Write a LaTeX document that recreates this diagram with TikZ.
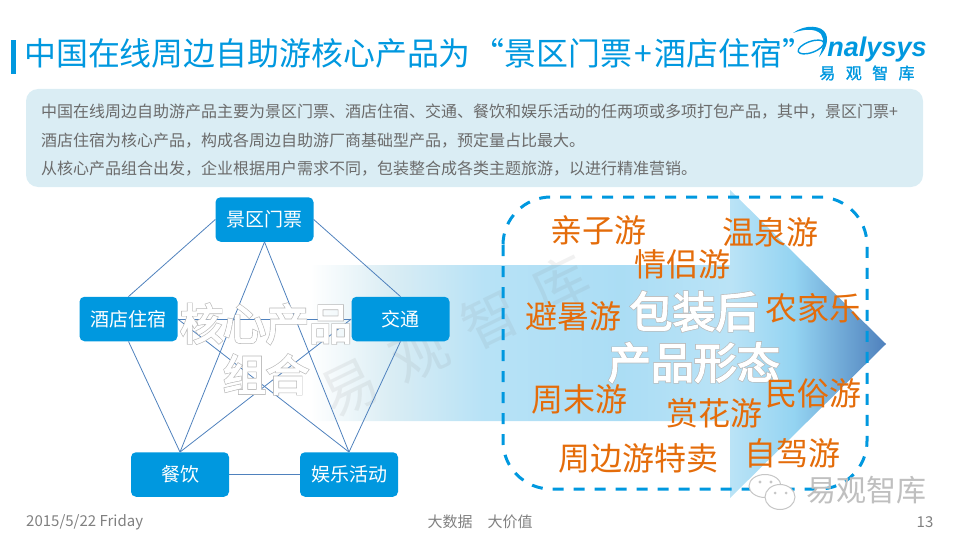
\documentclass[tikz,border=0pt]{standalone}
\usepackage{fontspec}
\setmainfont{Noto Sans CJK SC}
\newfontfamily\glowfont[FakeBold=6]{Noto Sans CJK SC}
\newfontfamily\fatfont[FakeBold=3]{Noto Sans CJK SC}
\newfontfamily\logofont[FakeBold=1.5]{Noto Sans CJK SC}
\newfontfamily\brandfont{Liberation Sans}
\usetikzlibrary{calc}

\definecolor{brandblue}{HTML}{0098DF}
\definecolor{linkblue}{HTML}{4F81BD}
\definecolor{infofill}{HTML}{DAEDF4}
\definecolor{tagorange}{HTML}{E46C0A}
\definecolor{bodygray}{HTML}{6B6B6B}

\pgfdeclarehorizontalshading{arrowfade}{100bp}{
    color(0bp)=(white); color(25bp)=(white); color(32bp)=(infofill);
    color(40bp)=(brandblue!28); color(52bp)=(brandblue!33); color(61.5bp)=(brandblue!27);
    color(67bp)=(brandblue!42); color(75bp)=(linkblue); color(100bp)=(linkblue)}

\newcommand{\glow}[1]{\rlap{\color{gray!55}\glowfont #1}{\color{white}\fatfont #1}}
\newcommand{\wcomma}{\char"FF0C\relax}

\tikzset{
    prod/.style={fill=brandblue, rounded corners=5pt, text=white, inner sep=0pt,
        minimum width=98pt, minimum height=44.5pt, font=\fontsize{19}{22}\selectfont},
    link/.style={draw=linkblue, line width=0.8pt},
    tag/.style={text=tagorange, inner sep=0pt, font=\fontsize{32}{36}\selectfont},
    body/.style={text=bodygray, inner sep=0pt, anchor=west, font=\fontsize{16}{19}\selectfont},
    foot/.style={text=gray, inner sep=0pt, font=\fontsize{15}{17}\selectfont},
    big/.style={inner sep=0pt, align=center}
}

\begin{document}
\begin{tikzpicture}[x=1pt, y=-1pt]
    \useasboundingbox (0,0) rectangle (960,540);
    \fill [brandblue] (11,40) rectangle (15.5,74);
    \node (title) at (24,53) [anchor=west, inner sep=0pt, text=brandblue, font=\fontsize{31.9}{36}\selectfont] {中国在线周边自助游核心产品为\hspace{2pt}“景区门票\hspace{2.5pt}+\hspace{2.5pt}酒店住宿”};

    \fill [brandblue] (793,33) .. controls (805,24) and (822,25) .. (826,34) .. controls (829,42) and (825,50) .. (819,57) .. controls (823,48) and (825,40) .. (821,34) .. controls (815,28) and (803,29) .. (793,33) -- cycle;
    \draw [brandblue, line width=1.4pt, rotate around={20:(811,47)}] (811,47) ellipse (13.5 and 5.5);
    \node (brand) at (877,50) [inner sep=0pt, text=brandblue, font=\brandfont\bfseries\itshape\fontsize{27}{29}\selectfont] {nalysys};
    \node (brandcn) at (867,73) [inner sep=0pt, text=brandblue, font=\logofont\fontsize{16}{18}\selectfont] {易\hspace{0.65em}观\hspace{0.65em}智\hspace{0.65em}库};

    \fill [infofill, rounded corners=12pt] (26,89) rectangle (923,187);
    \node (line1) at (41,112) [body] {中国在线周边自助游产品主要为景区门票、酒店住宿、交通、餐饮和娱乐活动的任两项或多项打包产品\wcomma 其中\wcomma 景区门票+};
    \node (line2) at (41,140.5) [body] {酒店住宿为核心产品\wcomma 构成各周边自助游厂商基础型产品\wcomma 预定量占比最大。};
    \node (line3) at (41,169) [body] {从核心产品组合出发\wcomma 企业根据用户需求不同\wcomma 包装整合成各类主题旅游\wcomma 以进行精准营销。};

    \shade [shading=arrowfade] (310,265) -- (730,265) -- (730,190) -- (886,344) -- (730,498) -- (730,421) -- (310,421) -- cycle;

    \node (mark) at (455,336) [rotate=26, inner sep=0pt, text=gray, opacity=0.11, font=\fontsize{56}{60}\selectfont] {易\hspace{0.4em}观\hspace{0.4em}智\hspace{0.4em}库};

    \draw [brandblue, line width=3pt, dash pattern=on 11pt off 10pt, rounded corners=48pt] (503,197) rectangle (867,489);

    \node (top) at (264.5,219.5) [prod] {景区门票};
    \node (left) at (128.5,319) [prod] {酒店住宿};
    \node (right) at (400.5,319) [prod] {交通};
    \node (botl) at (180,474.5) [prod] {餐饮};
    \node (botr) at (349,474.5) [prod] {娱乐活动};

    \draw [link] (top.west) -- (left.north);
    \draw [link] (top.east) -- (right.north);
    \draw [link] (top.south) -- (botl.north);
    \draw [link] (top.south) -- (botr.north);
    \draw [link] (left.east) -- (right.west);
    \draw [link] (left.east) -- (botr.north);
    \draw [link] (right.west) -- (botl.north);
    \draw [link] (left.south) -- (botl.north);
    \draw [link] (right.south) -- (botr.north);
    \draw [link] (botl.east) -- (botr.west);

    \node (core) at (266,349) [big, font=\fontsize{43}{51}\selectfont] {\glow{核心产品}\\\glow{组合}};
    \node (pack) at (694,337) [big, font=\fontsize{43}{51}\selectfont] {\glow{包装后}\\\glow{产品形态}};

    \node (t1) at (598,230) [tag] {亲子游};
    \node (t2) at (770,232) [tag] {温泉游};
    \node (t3) at (682,264) [tag] {情侣游};
    \node (t4) at (573,316) [tag] {避暑游};
    \node (t5) at (813,308) [tag] {农家乐};
    \node (t6) at (579,399) [tag] {周末游};
    \node (t7) at (714,413) [tag] {赏花游};
    \node (t8) at (813,393) [tag] {民俗游};
    \node (t9) at (638,458) [tag] {周边游特卖};
    \node (t10) at (792,453) [tag] {自驾游};

    \draw [gray!45, line width=1pt, fill=white] (765,486) ellipse (16 and 11.5);
    \draw [gray!45, line width=1pt, fill=white] (780,497) ellipse (15 and 12.5);
    \fill [gray!45] (760,482) circle (1.6) (771,482) circle (1.6) (775,493) circle (1.5) (786,493) circle (1.5);
    \node (wechat) at (866,490) [inner sep=0pt, text=gray!50, font=\fontsize{30}{34}\selectfont] {易观智库};

    \node (date) at (26,522) [foot, anchor=west] {2015/5/22 Friday};
    \node (slogan) at (480,522) [foot] {大数据\hspace{1em}大价值};
    \node (page) at (925,522) [foot] {13};
\end{tikzpicture}
\end{document}
